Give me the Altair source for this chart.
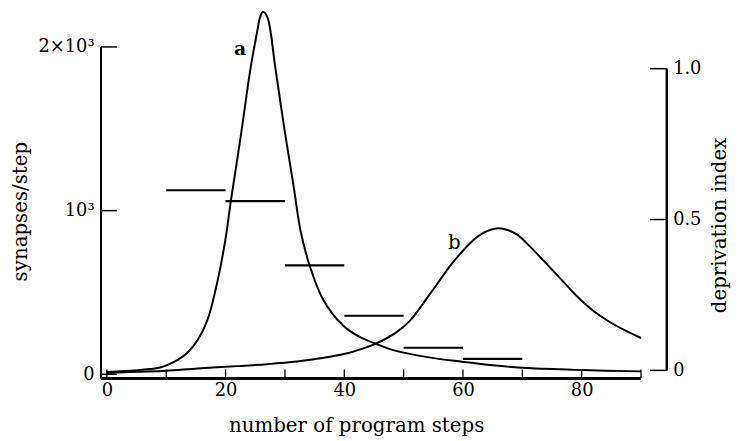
import altair as alt
import pandas as pd

# curve a (synapses/step)
A_X = [0, 3, 6, 9, 12, 13.5, 15.3, 17, 18.7, 20, 20.9, 22.6, 24.2, 25.3, 25.8, 26.3, 26.8, 27.3,
       28.4, 30.05, 31.5, 32.6, 34.2, 36.4, 39.8, 42.5, 45.3, 48.7, 54, 59.8, 65, 70.9, 80, 90]
A_Y = [15, 20, 28, 42, 90, 130, 210, 338, 580, 830, 1063, 1466, 1869, 2090, 2180, 2215, 2200, 2150,
       1869, 1466, 1140, 882, 660, 459, 298, 230, 187, 143, 105, 77, 55, 38, 26, 18]

# curve b (synapses/step)
B_X = [0, 5, 10, 15.3, 22, 27, 32, 36, 40.3, 43.7, 45.3, 48.7, 51, 54.2, 56, 58, 60, 62, 63.5,
       65, 66, 67.5, 69.2, 71.4, 73.7, 76.5, 79.2, 82, 84.8, 87.5, 90]
B_Y = [8, 15, 22, 36, 50, 62, 78, 98, 127, 165, 187, 255, 325, 479, 570, 670, 755, 828, 866,
       886, 892, 882, 852, 777, 690, 582, 477, 387, 318, 265, 222]

# deprivation index per block of 10 steps
SEG_START = [10, 20, 30, 40, 50, 60]
SEG_END = [20, 30, 40, 50, 60, 70]
SEG_VAL = [0.597, 0.561, 0.348, 0.181, 0.075, 0.038]

X_TICKS = [0, 10, 20, 30, 40, 50, 60, 70, 80, 90]
X_LABELS = [0, 20, 40, 60, 80]
LEFT_TICKS = [0, 1000, 2000]
LEFT_LABELS = ["0", "10³", "2×10³"]
RIGHT_TICKS = [0, 0.5, 1.0]
RIGHT_LABELS = ["0", "0.5", "1.0"]

CURVE_LABELS = ["a", "b"]
CURVE_LABEL_X = [22.45, 58.55]
CURVE_LABEL_Y = [1990, 804]

X_DOMAIN = [-1, 94.33]
LEFT_DOMAIN = [-24.2, 2223.6]
RIGHT_DOMAIN = [-0.0262, 1.1934]
X_AXIS_END = 90

W, H = 572, 372
FONT = "DejaVu Serif"


def label_expr(values, labels):
    expr = "''"
    for v, l in zip(values, labels):
        expr = f"datum.value == {v} ? '{l}' : ({expr})"
    return expr


xs = alt.Scale(domain=X_DOMAIN, nice=False, zero=False)
xa = alt.Axis(values=X_LABELS, tickSize=0, domain=False, grid=False, labelPadding=3,
              title="number of program steps", titleX=258, titleY=48,
              titleAlign="center", titleBaseline="middle")
ls = alt.Scale(domain=LEFT_DOMAIN, nice=False, zero=False)
la = alt.Axis(values=LEFT_TICKS, labelExpr=label_expr(LEFT_TICKS, LEFT_LABELS), tickSize=0,
              domain=False, grid=False, labelPadding=7, labelBaseline="middle",
              title="synapses/step", titleX=-81, titleY=203, titleAngle=270,
              titleAlign="center", titleBaseline="middle", orient="left")
rs = alt.Scale(domain=RIGHT_DOMAIN, nice=False, zero=False)
ra = alt.Axis(values=RIGHT_TICKS, labelExpr=label_expr(RIGHT_TICKS, RIGHT_LABELS), tickSize=0,
              domain=False, grid=False, labelPadding=6, labelBaseline="middle",
              title="deprivation index", titleX=53, titleY=217, titleAngle=270,
              titleAlign="center", titleBaseline="middle", orient="right")


def X(f):
    return alt.X(f, type="quantitative", scale=xs, axis=xa)


def YL(f):
    return alt.Y(f, type="quantitative", scale=ls, axis=la)


def YR(f):
    return alt.Y(f, type="quantitative", scale=rs, axis=ra)


df_a = pd.DataFrame({"x": A_X, "y": A_Y})
df_b = pd.DataFrame({"x": B_X, "y": B_Y})
df_seg = pd.DataFrame({"x0": SEG_START, "x1": SEG_END, "v": SEG_VAL})
df_xt = pd.DataFrame({"x": X_TICKS})
df_lt = pd.DataFrame({"y": LEFT_TICKS})
df_rt = pd.DataFrame({"y": RIGHT_TICKS})
df_lab = pd.DataFrame({"t": CURVE_LABELS, "x": CURVE_LABEL_X, "y": CURVE_LABEL_Y})

curve_a = alt.Chart(df_a).mark_line(color="black", strokeWidth=2, interpolate="catmull-rom").encode(
    x=X("x"), y=YL("y"))
curve_b = alt.Chart(df_b).mark_line(color="black", strokeWidth=2, interpolate="catmull-rom").encode(
    x=X("x"), y=YL("y"))

lab_a = alt.Chart(df_lab[df_lab.t == "a"]).mark_text(
    font=FONT, fontSize=19, fontWeight="bold", color="black").encode(
    x=X("x"), y=YL("y"), text="t:N")
lab_b = alt.Chart(df_lab[df_lab.t == "b"]).mark_text(
    font=FONT, fontSize=20, color="black").encode(
    x=X("x"), y=YL("y"), text="t:N")

left_line = alt.Chart(df_lt).mark_rule(color="black", strokeWidth=1.8).encode(
    x=alt.value(0), y=alt.datum(LEFT_DOMAIN[0]), y2=alt.datum(max(LEFT_TICKS)))
left_ticks = alt.Chart(df_lt).mark_rule(color="black", strokeWidth=1.5).encode(
    x=alt.value(0), x2=alt.value(16), y=YL("y"))
bottom_line = alt.Chart(df_xt).mark_rule(color="black", strokeWidth=1.8).encode(
    x=alt.datum(X_DOMAIN[0]), x2=alt.datum(X_AXIS_END), y=alt.value(H))
x_ticks = alt.Chart(df_xt).mark_rule(color="black", strokeWidth=1.3).encode(
    x=X("x"), y=alt.value(H - 9), y2=alt.value(H))

left_group = alt.layer(curve_a, curve_b, lab_a, lab_b, left_line, left_ticks, bottom_line, x_ticks)

segs = alt.Chart(df_seg).mark_rule(color="black", strokeWidth=2.2).encode(
    x=X("x0"), x2="x1:Q", y=YR("v"))
right_line = alt.Chart(df_rt).mark_rule(color="black", strokeWidth=1.8).encode(
    x=alt.value(W), y=alt.datum(0), y2=alt.datum(max(RIGHT_TICKS)))
right_ticks = alt.Chart(df_rt).mark_rule(color="black", strokeWidth=1.5).encode(
    x=alt.value(W - 17), x2=alt.value(W), y=YR("y"))

right_group = alt.layer(segs, right_line, right_ticks)

chart = alt.layer(left_group, right_group).resolve_scale(y="independent").properties(
    width=W, height=H, autosize="none",
    padding={"left": 94, "top": 0, "right": 65, "bottom": 58},
    background="white",
).configure_view(stroke=None).configure_axis(
    labelFont=FONT, titleFont=FONT, labelFontSize=18, titleFontSize=20,
    labelColor="black", titleColor="black", titleFontWeight="normal",
)

chart.save("out.html", embed_options={"renderer": "svg", "actions": False})
